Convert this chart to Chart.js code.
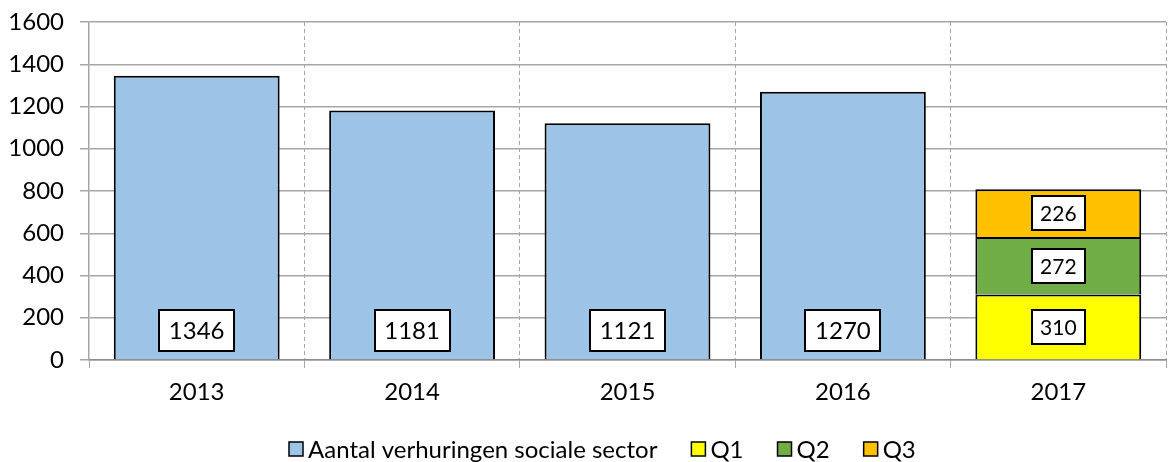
<!DOCTYPE html>
<html>
<head>
<meta charset="utf-8">
<script src="https://cdn.jsdelivr.net/npm/chart.js@4/dist/chart.umd.min.js"></script>
<style>
  html, body { margin: 0; padding: 0; background: #fff; }
  #wrap { width: 1168px; height: 462px; }
</style>
</head>
<body>
<div id="wrap"><canvas id="verhuringen"></canvas></div>
<script>
    "use strict";

    // gegevens
    const jaren = ["2013", "2014", "2015", "2016", "2017"];
    const sociaal = [1346, 1181, 1121, 1270, null];
    const q1 = [null, null, null, null, 310];
    const q2 = [null, null, null, null, 272];
    const q3 = [null, null, null, null, 226];
    const yTicks = [0, 200, 400, 600, 800, 1000, 1200, 1400, 1600];

    const FONT = "Lato, 'Liberation Sans', sans-serif";
    const GRID = "#a6a6a6";

    // waardes in witte kaders op de balken
    const labelPlugin = {
        id: "waardeLabels",
        afterDatasetsDraw(chart) {
            const ctx = chart.ctx;
            chart.data.datasets.forEach(function (ds, di) {
                const meta = chart.getDatasetMeta(di);
                meta.data.forEach(function (bar, i) {
                    const v = ds.data[i];
                    if (v === null || v === undefined) return;
                    const klein = di > 0;
                    const size = klein ? 21 : 24;
                    ctx.save();
                    ctx.font = size + "px " + FONT;
                    const tw = ctx.measureText(String(v)).width;
                    const w = Math.round(tw + (klein ? 16 : 19));
                    const h = klein ? 34 : 41;
                    let cy;
                    if (klein) {
                        cy = (bar.y + bar.base) / 2;
                    } else {
                        cy = bar.base - 8 - h / 2;
                    }
                    const x0 = Math.round(bar.x - w / 2);
                    const y0 = Math.round(cy - h / 2);
                    ctx.fillStyle = "#fff";
                    ctx.fillRect(x0, y0, w, h);
                    ctx.lineWidth = 2;
                    ctx.strokeStyle = "#000";
                    ctx.strokeRect(x0, y0, w, h);
                    ctx.fillStyle = "#000";
                    ctx.textAlign = "center";
                    ctx.textBaseline = "middle";
                    ctx.fillText(String(v), bar.x, cy + 1);
                    ctx.restore();
                });
            });
        }
    };

    // legenda onderaan, zoals in Excel
    const legendPlugin = {
        id: "legendaOnder",
        afterDraw(chart) {
            const ctx = chart.ctx;
            const box = 14, gap = 5, itemGap = 34, y = 449;
            ctx.save();
            ctx.font = "24px " + FONT;
            const items = chart.data.datasets.map(function (ds) {
                return { label: ds.label, color: ds.backgroundColor, w: box + gap + ctx.measureText(ds.label).width };
            });
            let total = items.reduce(function (s, it) { return s + it.w; }, 0) + itemGap * (items.length - 1);
            let x = Math.round(chart.width / 2 - total / 2 + 18);
            items.forEach(function (it) {
                ctx.fillStyle = it.color;
                ctx.fillRect(x, y - box / 2, box, box);
                ctx.lineWidth = 1.5;
                ctx.strokeStyle = "#000";
                ctx.strokeRect(x, y - box / 2, box, box);
                ctx.fillStyle = "#000";
                ctx.textBaseline = "middle";
                ctx.textAlign = "left";
                ctx.fillText(it.label, x + box + gap, y + 1);
                x += it.w + itemGap;
            });
            ctx.restore();
        }
    };

    const ctx = document.getElementById("verhuringen");
    const myChart = new Chart(ctx, {
        type: "bar",
        data: {
            labels: jaren,
            datasets: [
                { label: "Aantal verhuringen sociale sector", data: sociaal, backgroundColor: "#9dc3e6" },
                { label: "Q1", data: q1, backgroundColor: "#ffff00" },
                { label: "Q2", data: q2, backgroundColor: "#70ad47" },
                { label: "Q3", data: q3, backgroundColor: "#ffc000" }
            ].map(function (d) {
                d.borderColor = "#000";
                d.borderWidth = 2;
                d.borderSkipped = "start";
                d.categoryPercentage = 1;
                d.barPercentage = 0.77;
                return d;
            })
        },
        options: {
            responsive: true,
            maintainAspectRatio: false,
            animation: false,
            layout: { padding: { top: 22, right: 2, left: 0, bottom: 0 } },
            plugins: {
                legend: { display: false },
                tooltip: { enabled: false }
            },
            scales: {
                x: {
                    stacked: true,
                    grid: {
                        offset: true,
                        color: function (c) { return (c.index === 0 || c.index === 5) ? "transparent" : GRID; },
                        tickColor: GRID,
                        tickLength: 8,
                        lineWidth: 1
                    },
                    border: { color: "#8c8c8c", width: 1.5, dash: [4, 3] },
                    ticks: {
                        color: "#000",
                        font: { family: FONT, size: 24 },
                        padding: 10
                    },
                    afterFit: function (s) { s.height = 102; }
                },
                y: {
                    stacked: true,
                    min: 0,
                    max: 1600,
                    afterBuildTicks: function (s) { s.ticks = yTicks.map(function (v) { return { value: v }; }); },
                    grid: { color: GRID, tickColor: GRID, tickLength: 9, lineWidth: 1.5 },
                    border: { color: GRID, width: 1.5 },
                    ticks: {
                        color: "#000",
                        font: { family: FONT, size: 24 },
                        padding: 16,
                        callback: function (v) { return String(v); }
                    },
                    afterFit: function (s) {
                        s.width = 89;
                        s.paddingTop = 0;
                        s.paddingBottom = 0;
                    }
                }
            }
        },
        plugins: [labelPlugin, legendPlugin]
    });
</script>
</body>
</html>
